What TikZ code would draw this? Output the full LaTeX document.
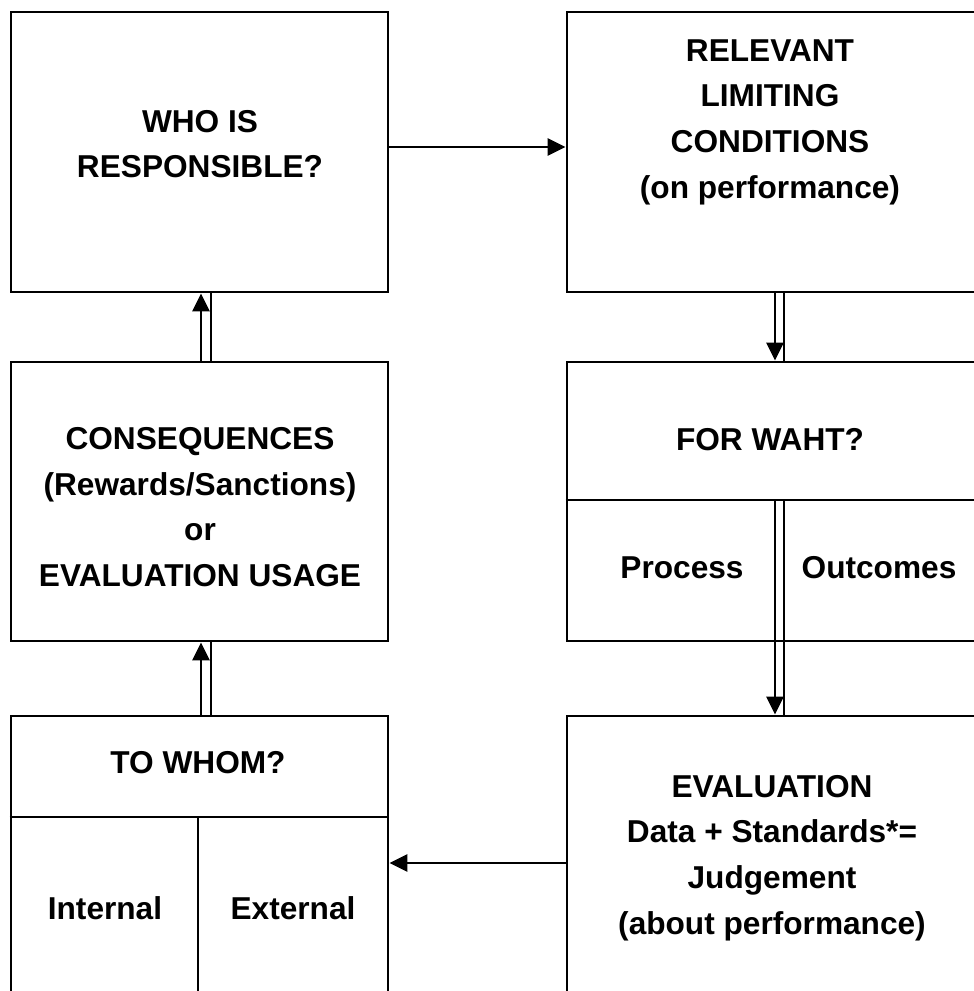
\documentclass[tikz,border=0pt]{standalone}
\usepackage{fontspec}
\setmainfont{Liberation Sans}
\usetikzlibrary{arrows.meta}

\begin{document}
\begin{tikzpicture}[
		x=0.2mm, y=-0.2mm,
		every node/.style={rectangle, draw, line width=1.6pt, inner sep=0pt},
		txt/.style={draw=none, align=center, font=\fontsize{18}{26}\selectfont\bfseries},
		link/.style={line width=1.5pt, -{Triangle[length=3.6mm, width=3.4mm]}},
		rail/.style={line width=1.3pt}
	]
  \useasboundingbox (0,0) rectangle (974,991);
  \clip (0,0) rectangle (974,991);
  % boxes
  \node (who) [minimum width=7.54cm, minimum height=5.6cm] at (199.5,152) {};
  \node (who_label) [txt] at (200,144) {WHO IS\\RESPONSIBLE?};
  \node (limits) [minimum width=8.16cm, minimum height=5.6cm] at (771,152) {};
  \node (limits_label) [txt] at (770,122) {RELEVANT\\LIMITING\\CONDITIONS\\(on performance)};
  \node (conseq) [minimum width=7.54cm, minimum height=5.58cm] at (199.5,501.5) {};
  \node (conseq_label) [txt] at (200,507) {CONSEQUENCES\\(Rewards/Sanctions)\\or\\EVALUATION USAGE};
  \node (forwhat) [minimum width=8.16cm, minimum height=5.58cm] at (771,501.5) {};
  \node (forwhat_label) [txt] at (770,440) {FOR WAHT?};
  \node (process) [txt] at (682,568) {Process};
  \node (outcomes) [txt] at (879,568) {Outcomes};
  \node (towhom) [minimum width=7.54cm, minimum height=5.6cm] at (199.5,856) {};
  \node (towhom_label) [txt] at (198,763) {TO WHOM?};
  \node (internal) [txt] at (105,908) {Internal};
  \node (external) [txt] at (293,908) {External};
  \node (eval) [minimum width=8.16cm, minimum height=5.6cm] at (771,856) {};
  \node (eval_label) [txt] at (772,858) {EVALUATION\\Data + Standards*=\\Judgement\\(about performance)};
  % dividers
  \coordinate (fw_split) at (771,500);
  \coordinate (tw_split) at (198,817);
  \draw [line width=1.6pt] (forwhat.west |- fw_split) -- (forwhat.east |- fw_split);
  \draw [line width=1.6pt] (towhom.west |- tw_split) -- (towhom.east |- tw_split);
  \draw [line width=1.6pt] (tw_split) -- (tw_split |- towhom.south);
  % connectors
  \draw [link] ([yshift=1mm]who.east) -- ([yshift=1mm]limits.west);
  \draw [link] ([xshift=0.8mm]limits.south) -- ([xshift=0.8mm]forwhat.north);
  \draw [rail] ([xshift=2.6mm]limits.south) -- ([xshift=2.6mm]forwhat.north);
  \draw [link] ([xshift=0.8mm]fw_split) -- ([xshift=0.8mm]eval.north);
  \draw [rail] ([xshift=2.6mm]fw_split) -- ([xshift=2.6mm]eval.north);
  \draw [link] ([yshift=-1.4mm]eval.west) -- ([yshift=-1.4mm]towhom.east);
  \draw [link] ([xshift=0.3mm]towhom.north) -- ([xshift=0.3mm]conseq.south);
  \draw [rail] ([xshift=2.3mm]towhom.north) -- ([xshift=2.3mm]conseq.south);
  \draw [link] ([xshift=0.3mm]conseq.north) -- ([xshift=0.3mm]who.south);
  \draw [rail] ([xshift=2.3mm]conseq.north) -- ([xshift=2.3mm]who.south);
\end{tikzpicture}
\end{document}
